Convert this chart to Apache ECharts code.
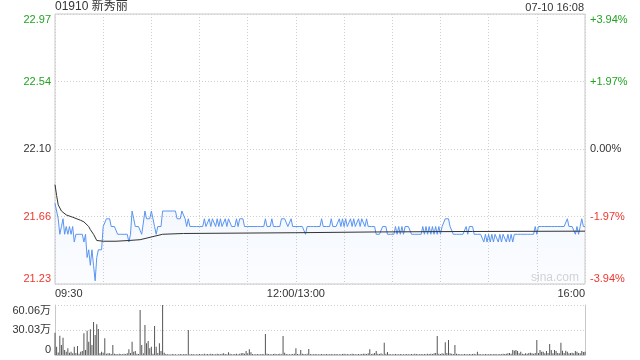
<!DOCTYPE html>
<html><head><meta charset="utf-8">
<script src="https://cdn.jsdelivr.net/npm/echarts@6/dist/echarts.min.js"></script>
<style>html,body{margin:0;padding:0;background:#fff}#c{width:640px;height:360px}</style>
</head><body><div id="c"></div>
<script>
const stockTitle = '01910 新秀丽';
const stamp = '07-10 16:08';
const prevClose = 22.10;
const pctRange = 3.94;
const timeTickMinutes = [0, 150, 330];
const timeTickLabels = ['09:30', '12:00/13:00', '16:00'];
const priceTicks = ['21.23', '21.66', '22.10', '22.54', '22.97'];
const pctTicks = ['-3.94%', '-1.97%', '0.00%', '+1.97%', '+3.94%'];
const volMax = 600600;
const volTicks = ['0', '30.03万', '60.06万'];

// price per minute (0 = 09:30)
const prices = [
21.75,21.75,21.65,21.55,21.60,21.65,21.55,21.60,21.55,21.60,
21.55,21.60,21.50,21.55,21.55,21.55,21.55,21.55,21.50,21.55,
21.40,21.45,21.35,21.45,21.35,21.25,21.40,21.45,21.45,21.45,
21.60,21.60,21.65,21.65,21.65,21.60,21.60,21.60,21.60,21.55,
21.55,21.55,21.55,21.55,21.55,21.55,21.50,21.55,21.70,21.65,
21.60,21.60,21.60,21.60,21.55,21.55,21.70,21.65,21.65,21.65,
21.70,21.65,21.60,21.55,21.60,21.60,21.60,21.70,21.70,21.70,
21.70,21.70,21.70,21.70,21.70,21.70,21.65,21.65,21.65,21.70,
21.70,21.65,21.60,21.65,21.60,21.60,21.60,21.60,21.60,21.60,
21.60,21.60,21.60,21.65,21.60,21.60,21.65,21.60,21.65,21.65,
21.60,21.65,21.60,21.65,21.60,21.60,21.65,21.60,21.65,21.65,
21.60,21.60,21.60,21.65,21.60,21.65,21.65,21.65,21.60,21.60,
21.60,21.60,21.60,21.60,21.60,21.60,21.60,21.60,21.60,21.60,
21.60,21.65,21.60,21.60,21.60,21.65,21.60,21.60,21.60,21.60,
21.60,21.65,21.65,21.65,21.65,21.60,21.60,21.65,21.60,21.60,
21.60,21.60,21.60,21.60,21.60,21.60,21.55,21.60,21.60,21.60,
21.60,21.60,21.60,21.60,21.60,21.60,21.65,21.60,21.60,21.60,
21.60,21.60,21.65,21.60,21.60,21.60,21.60,21.65,21.60,21.65,
21.60,21.65,21.60,21.60,21.65,21.60,21.65,21.60,21.60,21.65,
21.60,21.65,21.65,21.60,21.65,21.60,21.60,21.60,21.60,21.60,
21.55,21.55,21.55,21.55,21.60,21.60,21.60,21.55,21.55,21.55,
21.55,21.55,21.60,21.55,21.60,21.55,21.60,21.55,21.60,21.60,
21.60,21.60,21.55,21.55,21.55,21.55,21.55,21.55,21.55,21.60,
21.55,21.60,21.55,21.60,21.55,21.60,21.55,21.60,21.55,21.60,
21.55,21.60,21.60,21.65,21.65,21.65,21.60,21.60,21.55,21.55,
21.55,21.55,21.55,21.55,21.55,21.55,21.60,21.55,21.60,21.60,
21.60,21.55,21.55,21.55,21.55,21.55,21.55,21.50,21.55,21.50,
21.55,21.50,21.55,21.50,21.55,21.55,21.50,21.55,21.50,21.55,
21.55,21.50,21.55,21.50,21.55,21.50,21.55,21.55,21.55,21.55,
21.55,21.55,21.55,21.55,21.55,21.55,21.55,21.55,21.55,21.60,
21.55,21.60,21.60,21.60,21.60,21.60,21.60,21.60,21.60,21.60,
21.60,21.60,21.60,21.60,21.60,21.60,21.60,21.60,21.60,21.65,
21.60,21.60,21.60,21.60,21.55,21.60,21.55,21.60,21.65,21.60,
21.60
];

// average price line, [minute, price]
const avgMinutes = [0,1,2,4,7,11,16,18,21,22,24,26,27,30,38,46,53,61,67,80,150,200,260,330];
const avgPrices  = [21.87,21.80,21.74,21.70,21.675,21.66,21.64,21.63,21.60,21.58,21.55,21.51,21.50,21.505,21.505,21.51,21.515,21.535,21.55,21.555,21.56,21.565,21.568,21.57];

// volume per minute (shares)
const volumes = [
268000,100000,30000,232000,120000,208000,60000,40000,80000,28000,
40000,20000,100000,24000,108000,16000,40000,48000,260000,60000,
292000,160000,308000,120000,396000,240000,368000,312000,20000,40000,
28000,200000,16000,20000,20000,12000,120000,16000,12000,10000,
14000,12000,10000,16000,12000,20000,68000,24000,160000,40000,
48000,16000,12000,540000,120000,20000,360000,140000,168000,80000,
100000,16000,348000,100000,24000,140000,48000,600000,28000,12000,
8000,10000,6000,12000,8000,10000,6000,8000,12000,10000,
8000,12000,10000,300000,8000,10000,12000,6000,10000,8000,
12000,8000,10000,14000,8000,12000,10000,16000,12000,8000,
10000,14000,12000,8000,16000,20000,12000,10000,32000,14000,
10000,8000,12000,16000,10000,14000,20000,24000,16000,48000,
20000,68000,32000,12000,10000,8000,12000,10000,8000,12000,
10000,252000,16000,12000,8000,10000,12000,14000,10000,12000,
16000,10000,228000,28000,12000,10000,8000,10000,12000,16000,
80000,12000,10000,60000,14000,12000,10000,16000,72000,12000,
10000,8000,12000,10000,8000,10000,12000,8000,10000,12000,
8000,10000,12000,10000,8000,12000,10000,8000,10000,12000,
14000,10000,12000,8000,10000,16000,12000,10000,8000,12000,
10000,12000,14000,16000,12000,20000,68000,12000,16000,24000,
48000,16000,12000,20000,10000,148000,14000,36000,12000,10000,
8000,10000,12000,10000,8000,12000,10000,8000,10000,12000,
10000,8000,12000,10000,14000,12000,10000,8000,12000,10000,
12000,10000,14000,12000,16000,12000,20000,24000,228000,16000,
12000,20000,16000,152000,24000,180000,20000,16000,12000,120000,
14000,12000,10000,8000,10000,12000,10000,8000,12000,10000,
12000,16000,10000,40000,12000,10000,8000,10000,12000,8000,
10000,12000,8000,10000,12000,10000,8000,12000,10000,14000,
12000,16000,20000,24000,16000,60000,52000,60000,48000,20000,
40000,16000,12000,20000,16000,24000,28000,20000,16000,24000,
180000,24000,60000,40000,40000,20000,48000,24000,132000,60000,
20000,60000,48000,24000,20000,148000,52000,24000,52000,40000,
20000,24000,28000,20000,48000,40000,24000,20000,48000,36000,
40000
];

const GREEN = '#22a322', RED = '#f0352d', DARK = '#333';
const FONT = "'Liberation Sans', Arial, 'Noto Sans CJK SC', sans-serif";
const pct = p => (p - prevClose) / prevClose * 100;
const pctStep = pctRange / 2;
const tickIndex = v => Math.round((parseFloat(v) + pctRange) / pctStep);
const signColor = v => { const i = tickIndex(v); return i > 2 ? GREEN : (i < 2 ? RED : DARK); };

const chart = echarts.init(document.getElementById('c'), null, {renderer: 'canvas'});
chart.setOption({
  animation: false,
  backgroundColor: '#fff',
  textStyle: {fontFamily: FONT},
  grid: [
    {left: 55, right: 55, top: 14, height: 270, show: true, borderColor: '#c8c8c8', borderWidth: 1, backgroundColor: 'transparent'},
    {left: 55, right: 55, top: 305, height: 50, show: false}
  ],
  graphic: [
    {type: 'text', left: 55, top: 1, style: {text: stockTitle, font: "12px " + FONT, fill: '#333'}},
    {type: 'text', right: 56, top: 2, style: {text: stamp, font: "11px " + FONT, fill: '#333'}},
    {type: 'text', left: 531, top: 272, z: 1, style: {text: 'sina.com', font: "12px " + FONT, fill: '#d4d4d4'}}
  ],
  xAxis: [
    {type: 'value', gridIndex: 0, min: 0, max: 330, interval: 30,
     axisLine: {show: false}, axisTick: {show: false},
     splitLine: {show: true, lineStyle: {color: '#cfcfcf', type: [1, 2], width: 1}},
     axisLabel: {show: true, margin: 4, fontSize: 11, color: '#333', fontFamily: FONT,
       showMinLabel: true, showMaxLabel: true, alignMinLabel: 'left', alignMaxLabel: 'right',
       formatter: v => { const i = timeTickMinutes.indexOf(Math.round(v)); return i >= 0 ? timeTickLabels[i] : ''; }}},
    {type: 'value', gridIndex: 1, min: 0, max: 330, interval: 30,
     axisLine: {show: true, lineStyle: {color: '#c8c8c8'}}, axisTick: {show: false},
     splitLine: {show: false}, axisLabel: {show: false}}
  ],
  yAxis: [
    {type: 'value', gridIndex: 0, position: 'left', min: -pctRange, max: pctRange, interval: pctStep,
     axisLine: {show: false}, axisTick: {show: false},
     splitLine: {show: true, lineStyle: {color: '#cfcfcf', type: [1, 2], width: 1}},
     axisLabel: {margin: 4, fontSize: 11, fontFamily: FONT,
       verticalAlignMaxLabel: 'top', verticalAlignMinLabel: 'bottom',
       color: v => signColor(v), formatter: v => priceTicks[tickIndex(v)]}},
    {type: 'value', gridIndex: 0, position: 'right', min: -pctRange, max: pctRange, interval: pctStep,
     axisLine: {show: false}, axisTick: {show: false}, splitLine: {show: false},
     axisLabel: {margin: 5, fontSize: 11, fontFamily: FONT,
       verticalAlignMaxLabel: 'top', verticalAlignMinLabel: 'bottom',
       color: v => signColor(v), formatter: v => pctTicks[tickIndex(v)]}},
    {type: 'value', gridIndex: 1, position: 'left', min: 0, max: volMax, interval: volMax / 2,
     axisLine: {show: true, lineStyle: {color: '#c8c8c8'}}, axisTick: {show: false},
     splitLine: {show: true, lineStyle: {color: '#cfcfcf', type: [1, 2], width: 1}},
     axisLabel: {margin: 4, fontSize: 11, color: '#333', fontFamily: FONT,
       verticalAlignMaxLabel: 'top', verticalAlignMinLabel: 'bottom',
       formatter: v => volTicks[Math.round(parseFloat(v) / (volMax / 2))]}},
    {type: 'value', gridIndex: 1, position: 'right', min: 0, max: volMax, interval: volMax / 2,
     axisLine: {show: true, lineStyle: {color: '#c8c8c8'}}, axisTick: {show: false},
     splitLine: {show: false}, axisLabel: {show: false}}
  ],
  series: [
    {type: 'line', xAxisIndex: 0, yAxisIndex: 0, symbol: 'none', z: 3,
     data: prices.map((p, i) => [i, pct(p)]),
     lineStyle: {color: '#5a95f2', width: 1},
     areaStyle: {origin: 'start', color: new echarts.graphic.LinearGradient(0, 0, 0, 1, [
       {offset: 0, color: 'rgba(90,149,242,0.10)'}, {offset: 1, color: 'rgba(90,149,242,0.03)'}])}},
    {type: 'line', xAxisIndex: 0, yAxisIndex: 0, symbol: 'none', z: 4,
     data: avgMinutes.map((m, i) => [m, pct(avgPrices[i])]),
     lineStyle: {color: '#333', width: 1}},
    {type: 'bar', xAxisIndex: 1, yAxisIndex: 2, barWidth: 1,
     data: volumes.map((v, i) => [i, v]),
     itemStyle: {color: '#555'}}
  ]
});
</script></body></html>
